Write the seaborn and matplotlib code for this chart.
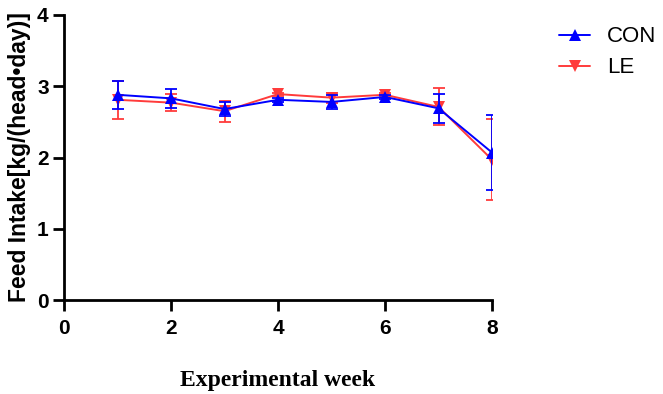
import numpy as np
import pandas as pd
import matplotlib
matplotlib.use('Agg')
import matplotlib.pyplot as plt
import seaborn as sns

# Feed intake per week (mean and SD)
weeks = [1, 2, 3, 4, 5, 6, 7, 8]
con_mean = [2.88, 2.83, 2.68, 2.81, 2.78, 2.85, 2.69, 2.07]
con_sd = [0.20, 0.13, 0.10, 0.03, 0.10, 0.03, 0.20, 0.53]
le_mean = [2.81, 2.77, 2.65, 2.89, 2.84, 2.88, 2.71, 1.97]
le_sd = [0.27, 0.12, 0.15, 0.02, 0.07, 0.02, 0.26, 0.57]

groups = ['CON', 'LE']
colors = {'CON': '#0000ff', 'LE': '#ff3b3b'}
markers = {'CON': '^', 'LE': 'v'}

df = pd.concat([
    pd.DataFrame({'week': weeks, 'intake': con_mean, 'sd': con_sd, 'group': 'CON'}),
    pd.DataFrame({'week': weeks, 'intake': le_mean, 'sd': le_sd, 'group': 'LE'}),
])

sns.set_style('ticks', {'text.color': 'black', 'axes.labelcolor': 'black',
                        'xtick.color': 'black', 'ytick.color': 'black',
                        'axes.edgecolor': 'black'})
plt.rcParams['font.family'] = ['Liberation Sans', 'DejaVu Sans']

fig = plt.figure(figsize=(6.63, 3.94), dpi=100)
ax = fig.add_axes([64 / 663, 1 - 300 / 394, (492 - 64) / 663, (300 - 15) / 394])

# draw LE first so CON sits on top
for i, g in enumerate(['LE', 'CON']):
    sub = df[df['group'] == g]
    ax.errorbar(sub['week'], sub['intake'], yerr=sub['sd'], fmt='none',
                ecolor=colors[g], elinewidth=1.3, capsize=4.5, capthick=1.3,
                zorder=2 + 2 * i)
    sns.lineplot(data=sub, x='week', y='intake', color=colors[g],
                 marker=markers[g], markersize=9, markeredgewidth=0,
                 linewidth=1.4, label=g, ax=ax, zorder=3 + 2 * i)

ax.set_xlim(0, 8)
ax.set_ylim(0, 4)
ax.set_xticks([0, 2, 4, 6, 8])
ax.set_yticks([0, 1, 2, 3, 4])
for s in ['top', 'right']:
    ax.spines[s].set_visible(False)
for s in ['left', 'bottom']:
    ax.spines[s].set_linewidth(2)
    ax.spines[s].set_color('black')
ax.tick_params(axis='both', width=2, length=8, direction='out', labelsize=15,
               color='black', labelcolor='black')
ax.tick_params(axis='x', pad=6)
ax.tick_params(axis='y', pad=3)
for lab in ax.get_xticklabels() + ax.get_yticklabels():
    lab.set_fontweight('bold')

ax.set_ylabel('Feed Intake[kg/(head•day)]', fontsize=16.5, fontweight='bold',
              labelpad=4, color='black')
ax.set_xlabel('Experimental week', fontsize=17, fontweight='bold', color='black',
              family=['Liberation Serif', 'DejaVu Serif'], labelpad=23)

handles, labels = ax.get_legend_handles_labels()
order = [labels.index(g) for g in groups]
leg = ax.legend([handles[k] for k in order], groups, loc='upper left',
                bbox_to_anchor=(1.11, 1.03), frameon=False, fontsize=16,
                handlelength=1.4, handletextpad=0.75, labelspacing=0.45)
for t in leg.get_texts():
    t.set_color('black')

fig.savefig('out.png', dpi=100)
